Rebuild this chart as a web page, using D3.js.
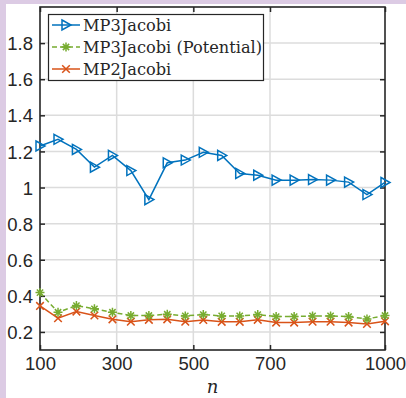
<!DOCTYPE html>
<html>
<head>
<meta charset="utf-8">
<script src="https://cdn.jsdelivr.net/npm/d3@7"></script>
<style>
  html, body { margin: 0; padding: 0; background: #dccbe4; }
  #chart { position: absolute; left: 6px; top: 4px; width: 400px; height: 394px; background: #fff; }
  svg { position: absolute; left: 0; top: 0; }
  .serif { font-family: "DejaVu Serif", serif; }
  .sans { font-family: "Liberation Sans", Arial, sans-serif; }
</style>
</head>
<body>
<div id="chart"></div>
<script>
const width = 406;
const height = 398;

// data
const nValues = [100, 147, 195, 242, 289, 337, 384, 432, 479, 526,
                 574, 621, 668, 716, 763, 811, 858, 905, 953, 1000];
const mp3 = [1.23, 1.267, 1.211, 1.113, 1.178, 1.094, 0.933, 1.137, 1.152, 1.195,
             1.178, 1.078, 1.068, 1.041, 1.041, 1.044, 1.041, 1.03, 0.961, 1.028];
const mp3Potential = [0.418, 0.309, 0.346, 0.328, 0.309, 0.291, 0.291, 0.298, 0.289, 0.296,
                      0.289, 0.289, 0.296, 0.285, 0.285, 0.289, 0.289, 0.285, 0.272, 0.291];
const mp2 = [0.344, 0.276, 0.313, 0.291, 0.270, 0.257, 0.267, 0.270, 0.257, 0.266,
             0.256, 0.256, 0.267, 0.252, 0.252, 0.257, 0.257, 0.252, 0.244, 0.259];
const xTicks = [100, 300, 500, 700, 1000];
const yTicks = [0.2, 0.4, 0.6, 0.8, 1, 1.2, 1.4, 1.6, 1.8];
const seriesNames = ["MP3Jacobi", "MP3Jacobi (Potential)", "MP2Jacobi"];

const svg = d3.select("body")
  .append("svg")
  .attr("width", width)
  .attr("height", height);

const mLeft = 40, mRight = 385, mTop = 7, mBottom = 350;

const x = d3.scaleLinear().domain([100, 1000]).range([mLeft, mRight]);
const y = d3.scaleLinear().domain([0.1, 2]).range([mBottom, mTop]);

const axisColor = "#262626";
const fmt = d => String(d);

// Grid
const grid = svg.append("g");
grid.selectAll("line.gy")
  .data(yTicks)
  .join("line")
  .attr("x1", mLeft).attr("x2", mRight)
  .attr("y1", d => y(d)).attr("y2", d => y(d))
  .attr("stroke", "#dcdcdc")
  .attr("stroke-width", 1.5);
grid.selectAll("line.gx")
  .data(xTicks.slice(1, -1))
  .join("line")
  .attr("x1", d => x(d)).attr("x2", d => x(d))
  .attr("y1", mTop).attr("y2", mBottom)
  .attr("stroke", "#dcdcdc")
  .attr("stroke-width", 1.5);

// Axes (MATLAB style, ticks pointing inward)
const xAxis = svg.append("g")
  .attr("transform", `translate(0,${mBottom})`)
  .call(d3.axisBottom(x).tickValues(xTicks).tickFormat(fmt).tickSizeInner(-5).tickSizeOuter(0).tickPadding(7));
const xAxisTop = svg.append("g")
  .attr("transform", `translate(0,${mTop})`)
  .call(d3.axisTop(x).tickValues(xTicks).tickFormat("").tickSizeInner(-5).tickSizeOuter(0));
const yAxis = svg.append("g")
  .attr("transform", `translate(${mLeft},0)`)
  .call(d3.axisLeft(y).tickValues(yTicks).tickFormat(fmt).tickSizeInner(-5).tickSizeOuter(0).tickPadding(7));
const yAxisRight = svg.append("g")
  .attr("transform", `translate(${mRight},0)`)
  .call(d3.axisRight(y).tickValues(yTicks).tickFormat("").tickSizeInner(-5).tickSizeOuter(0));

[xAxis, xAxisTop, yAxis, yAxisRight].forEach(a => {
  a.attr("font-family", null).attr("font-size", null);
  a.select(".domain").remove();
  a.selectAll(".tick line").attr("stroke", axisColor).attr("stroke-width", 1.5);
  a.selectAll("text")
    .attr("class", "sans")
    .attr("fill", axisColor)
    .style("font-size", "18.5px");
});
yAxis.selectAll("text").attr("dy", "0.36em");

// Box
svg.append("rect")
  .attr("x", mLeft).attr("y", mTop)
  .attr("width", mRight - mLeft).attr("height", mBottom - mTop)
  .attr("fill", "none")
  .attr("stroke", axisColor)
  .attr("stroke-width", 1.6);

// x label
svg.append("text")
  .attr("class", "serif")
  .attr("x", (mLeft + mRight) / 2)
  .attr("y", 393)
  .attr("text-anchor", "middle")
  .style("font-style", "italic")
  .style("font-size", "18px")
  .attr("fill", axisColor)
  .text("n");

// Series
const colors = ["#0072BD", "#77AC30", "#D95319"];
const allSeries = [mp3, mp3Potential, mp2];
const dashes = [null, "5,3", null];

const line = d3.line().x((d, i) => x(nValues[i])).y(d => y(d));

function drawMarker(g, kind, cx, cy, color) {
  if (kind === 0) {
    g.append("path")
      .attr("d", `M${cx - 4},${cy - 5}L${cx + 5},${cy}L${cx - 4},${cy + 5}Z`)
      .attr("fill", "none").attr("stroke", color).attr("stroke-width", 1.5);
  } else if (kind === 1) {
    const r = 4.5, s = r * 0.7;
    g.append("path")
      .attr("d", `M${cx - r},${cy}L${cx + r},${cy}M${cx},${cy - r}L${cx},${cy + r}` +
                 `M${cx - s},${cy - s}L${cx + s},${cy + s}M${cx - s},${cy + s}L${cx + s},${cy - s}`)
      .attr("fill", "none").attr("stroke", color).attr("stroke-width", 1.5);
  } else {
    const s = 3.8;
    g.append("path")
      .attr("d", `M${cx - s},${cy - s}L${cx + s},${cy + s}M${cx - s},${cy + s}L${cx + s},${cy - s}`)
      .attr("fill", "none").attr("stroke", color).attr("stroke-width", 1.5);
  }
}

const plot = svg.append("g");
[2, 1, 0].forEach(k => {
  plot.append("path")
    .datum(allSeries[k])
    .attr("d", line)
    .attr("fill", "none")
    .attr("stroke", colors[k])
    .attr("stroke-width", 1.5)
    .attr("stroke-dasharray", dashes[k]);
  allSeries[k].forEach((v, i) => drawMarker(plot, k, x(nValues[i]), y(v), colors[k]));
});

// Legend
const legend = svg.append("g");
legend.append("rect")
  .attr("x", 48.5).attr("y", 14.5)
  .attr("width", 215).attr("height", 66)
  .attr("fill", "#fff")
  .attr("stroke", axisColor)
  .attr("stroke-width", 1.2);

seriesNames.forEach((name, k) => {
  const cy = 25 + k * 22;
  legend.append("line")
    .attr("x1", 52).attr("x2", 80)
    .attr("y1", cy).attr("y2", cy)
    .attr("stroke", colors[k])
    .attr("stroke-width", 1.5)
    .attr("stroke-dasharray", dashes[k]);
  drawMarker(legend, k, 66, cy, colors[k]);
  legend.append("text")
    .attr("class", "serif")
    .attr("x", 83)
    .attr("y", cy + 5.5)
    .style("font-size", "16.2px")
    .attr("fill", axisColor)
    .text(name);
});
</script>
</body>
</html>
